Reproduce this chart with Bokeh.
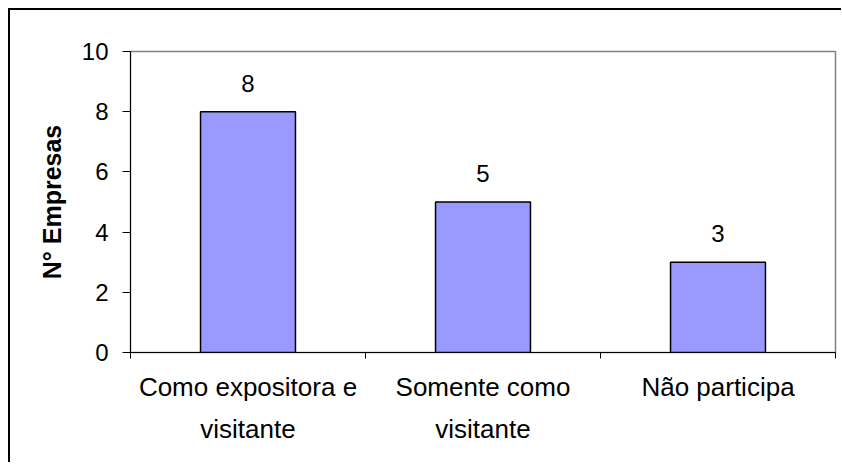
from bokeh.plotting import figure
from bokeh.models import ColumnDataSource, Range1d, FixedTicker, LabelSet
from bokeh.core.properties import value
from bokeh.embed import file_html
from bokeh.resources import INLINE
import numpy as np

categories = ["Como expositora e\nvisitante", "Somente como\nvisitante", "Não participa"]
values = [8, 5, 3]
y_ticks = [0, 2, 4, 6, 8, 10]
y_label = "N° Empresas"

FONT = "Liberation Sans"

xpos = np.arange(len(categories)) + 0.5
src = ColumnDataSource(dict(x=xpos, top=values, txt=[str(v) for v in values]))

p = figure(frame_width=705, frame_height=301,
           min_border_left=120, min_border_right=6, min_border_top=41, min_border_bottom=110,
           x_range=Range1d(0, len(categories)), y_range=Range1d(0, 10),
           output_backend="svg", toolbar_location=None,
           styles={"border-left": "2px solid black", "border-top": "2px solid black",
                   "margin-left": "8px", "margin-top": "8px"})

p.vbar(x="x", top="top", bottom=0, width=0.404, source=src,
       fill_color="#9999FF", line_color="black", line_width=1.5)

labels = LabelSet(x="x", y="top", text="txt", source=src, y_offset=20,
                  text_align="center", text_baseline="alphabetic",
                  text_font=value(FONT), text_font_size=value("24px"), text_color="black")
p.add_layout(labels)

p.grid.visible = False
p.outline_line_color = "#808080"
p.outline_line_width = 1.5
p.background_fill_color = "white"
p.border_fill_color = "white"

xa = p.xaxis[0]
xa.ticker = FixedTicker(ticks=list(xpos), minor_ticks=list(range(len(categories) + 1)))
xa.major_label_overrides = {float(x): c for x, c in zip(xpos, categories)}
xa.major_tick_out = 0
xa.major_tick_in = 0
xa.minor_tick_out = 6
xa.minor_tick_in = 0
xa.minor_tick_line_color = "black"
xa.axis_line_color = "black"
xa.major_label_standoff = 13
xa.major_label_text_font = FONT
xa.major_label_text_font_size = "26px"
xa.major_label_text_line_height = 1.4
xa.major_label_text_color = "black"

ya = p.yaxis[0]
ya.ticker = FixedTicker(ticks=y_ticks, minor_ticks=[])
ya.major_tick_out = 8
ya.major_tick_in = 0
ya.major_tick_line_color = "black"
ya.axis_line_color = "black"
ya.major_label_standoff = 14
ya.major_label_text_font = FONT
ya.major_label_text_font_size = "24px"
ya.major_label_text_color = "black"
ya.axis_label = y_label
ya.axis_label_text_font = FONT
ya.axis_label_text_font_size = "25px"
ya.axis_label_text_font_style = "bold"
ya.axis_label_text_color = "black"
ya.axis_label_standoff = 13

open("out.html", "w").write(file_html(p, INLINE))
